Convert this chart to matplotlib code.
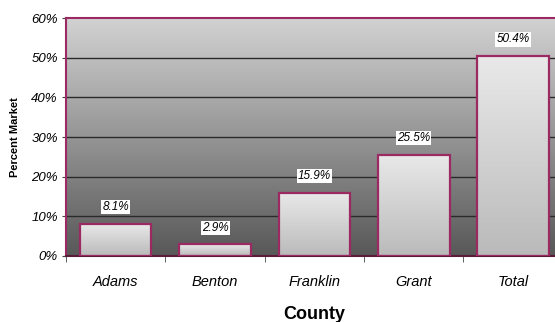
import numpy as np
import matplotlib.pyplot as plt
from matplotlib.colors import LinearSegmentedColormap

plt.rcParams['font.family'] = ['Liberation Sans', 'DejaVu Sans']

counties = ['Adams', 'Benton', 'Franklin', 'Grant', 'Total']
share = [8.1, 2.9, 15.9, 25.5, 50.4]
yticks = [0, 10, 20, 30, 40, 50, 60]

edge = '#9b2a62'

fig = plt.figure(figsize=(5.55, 3.22), dpi=100)
ax = fig.add_axes([0.119, 0.205, 0.895, 0.739])

x = np.arange(len(counties))
ax.set_xlim(-0.5, len(counties) - 0.5)
ax.set_ylim(0, 60)

# background gradient, light at the top, dark at the bottom
bg = LinearSegmentedColormap.from_list('bg', ['#585858', '#d2d2d2'])
grad = np.linspace(0, 1, 256).reshape(-1, 1)
ax.imshow(grad, cmap=bg, aspect='auto', origin='lower',
          extent=[-0.5, len(counties) - 0.5, 0, 60], zorder=0)

for y in yticks[1:-1]:
    ax.axhline(y, color='#2a2a2a', lw=1.0, zorder=1)

# bars with their own soft gradient
barcm = LinearSegmentedColormap.from_list('bar', ['#bababa', '#e9e9e9'])
w = 0.72
bars = ax.bar(x, share, width=w, facecolor='none', edgecolor=edge, lw=1.6, zorder=3)
for xi, v in zip(x, share):
    ax.imshow(grad, cmap=barcm, aspect='auto', origin='lower',
              extent=[xi - w / 2, xi + w / 2, 0, v], zorder=2)
    ax.annotate(f'{v}%', (xi, v), xytext=(0, 12), textcoords='offset points',
                ha='center', va='center', fontsize=8.5, style='italic',
                bbox=dict(facecolor='white', edgecolor='none', pad=0.8), zorder=4)

ax.set_xlim(-0.5, len(counties) - 0.5)
ax.set_ylim(0, 60)

ax.set_yticks(yticks)
ax.set_yticklabels([f'{t}%' for t in yticks], fontsize=9.5, style='italic')
ax.set_xticks(x)
ax.set_xticklabels(counties, fontsize=10.5, style='italic')
ax.tick_params(axis='x', length=0, pad=14)
ax.set_xticks(np.arange(-0.5, len(counties)), minor=True)
ax.tick_params(axis='x', which='minor', length=4, color='#444')
ax.tick_params(axis='y', length=3, color='#444', pad=3)

for s in ['left', 'top']:
    ax.spines[s].set_color(edge)
    ax.spines[s].set_linewidth(1.5)
ax.spines['bottom'].set_color('#5a1a3a')
ax.spines['bottom'].set_linewidth(1.5)
ax.spines['right'].set_visible(False)

ax.set_xlabel('County', fontsize=13, fontweight='bold', labelpad=12)
ax.set_ylabel('Percent Market', fontsize=8, fontweight='bold', labelpad=8)

fig.savefig('out.png', dpi=100)
